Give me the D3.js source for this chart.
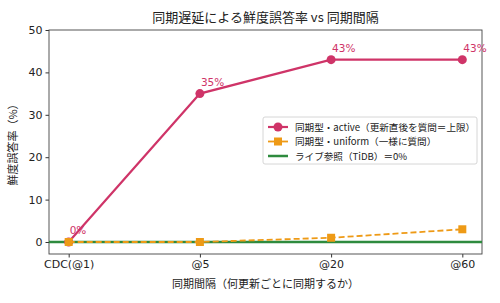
<!DOCTYPE html>
<html><head><meta charset="utf-8">
<script src="https://cdn.jsdelivr.net/npm/d3@7"></script>
<style>body{margin:0;background:#fff}svg{font-family:"Noto Sans CJK JP","DejaVu Sans",sans-serif}</style>
</head><body>
<svg id="c" width="500" height="303"></svg>
<script>
const categories = ["CDC(@1)", "@5", "@20", "@60"];
const activeValues = [0, 35, 43, 43];
const uniformValues = [0, 0, 1, 3];
const liveValue = 0;
const yTicks = [0, 10, 20, 30, 40, 50];
const title = "同期遅延による鮮度誤答率 vs 同期間隔";
const xLabel = "同期間隔（何更新ごとに同期するか）";
const yLabel = "鮮度誤答率（%）";
const legendLabels = ["同期型・active（更新直後を質問＝上限）", "同期型・uniform（一様に質問）", "ライブ参照（TiDB）＝0%"];

const colActive = "#cf3468", colUniform = "#ee9a16", colLive = "#2e8b3e";
const svg = d3.select("#c");
const L = 49, R = 482, T = 30, B = 254;
const x = d3.scaleLinear().domain([-0.15, 3.15]).range([L, R]);
const y = d3.scaleLinear().domain([-2.83, 50]).range([B, T]);

svg.append("text").attr("x", (L + R) / 2).attr("y", 22).attr("text-anchor", "middle")
  .attr("font-size", 13).attr("fill", "#222").text(title);

// axes
const xa = svg.append("g").attr("transform", `translate(0,${B})`)
  .call(d3.axisBottom(x).tickValues([0, 1, 2, 3]).tickFormat(i => categories[i]).tickSize(3.5).tickPadding(3));
const ya = svg.append("g").attr("transform", `translate(${L},0)`)
  .call(d3.axisLeft(y).tickValues(yTicks).tickSize(3.5).tickPadding(3));
[xa, ya].forEach(g => {
  g.select(".domain").remove();
  g.selectAll("text").attr("font-size", 11).attr("fill", "#222").attr("font-family", "'DejaVu Sans',sans-serif");
  g.selectAll("line").attr("stroke", "#333");
});
svg.append("rect").attr("x", L).attr("y", T).attr("width", R - L).attr("height", B - T)
  .attr("fill", "none").attr("stroke", "#444").attr("stroke-width", 0.9);

svg.append("text").attr("x", (L + R) / 2).attr("y", 288).attr("text-anchor", "middle")
  .attr("font-size", 11).attr("fill", "#222").text(xLabel);
svg.append("text").attr("transform", `translate(17,${(T + B) / 2}) rotate(-90)`).attr("text-anchor", "middle")
  .attr("font-size", 11).attr("fill", "#222").text(yLabel);

// live line
svg.append("line").attr("x1", L).attr("x2", R).attr("y1", y(liveValue)).attr("y2", y(liveValue))
  .attr("stroke", colLive).attr("stroke-width", 2.5);

const line = d3.line().x((d, i) => x(i)).y(d => y(d));
svg.append("path").datum(activeValues).attr("d", line).attr("fill", "none")
  .attr("stroke", colActive).attr("stroke-width", 2.2);
svg.selectAll(".pa").data(activeValues).join("circle").attr("cx", (d, i) => x(i)).attr("cy", d => y(d))
  .attr("r", 4.5).attr("fill", colActive);

svg.append("path").datum(uniformValues).attr("d", line).attr("fill", "none")
  .attr("stroke", colUniform).attr("stroke-width", 1.8).attr("stroke-dasharray", "6,3");
svg.selectAll(".pu").data(uniformValues).join("rect").attr("x", (d, i) => x(i) - 4).attr("y", d => y(d) - 4)
  .attr("width", 8).attr("height", 8).attr("fill", colUniform);

svg.selectAll(".lab").data(activeValues).join("text").attr("x", (d, i) => x(i) + 1).attr("y", d => y(d) - 8)
  .attr("font-size", 10.5).attr("fill", colActive).attr("font-family", "'DejaVu Sans',sans-serif")
  .text(d => d + "%");

// legend
const lg = svg.append("g").attr("transform", "translate(263,117)");
lg.append("rect").attr("width", 214).attr("height", 47).attr("rx", 2).attr("fill", "#fff")
  .attr("fill-opacity", 0.85).attr("stroke", "#ccc").attr("stroke-width", 0.8);
const items = [
  {c: colActive, m: "circle", w: 2.2},
  {c: colUniform, m: "square", w: 1.8},
  {c: colLive, m: null, w: 2.5}
];
items.forEach((it, i) => {
  const yy = 10 + i * 14.5;
  lg.append("line").attr("x1", 5).attr("x2", 25).attr("y1", yy).attr("y2", yy)
    .attr("stroke", it.c).attr("stroke-width", it.w);
  if (it.m === "circle") lg.append("circle").attr("cx", 15).attr("cy", yy).attr("r", 4.5).attr("fill", it.c);
  if (it.m === "square") lg.append("rect").attr("x", 11).attr("y", yy - 4).attr("width", 8).attr("height", 8).attr("fill", it.c);
  lg.append("text").attr("x", 32).attr("y", yy + 3.5).attr("font-size", 9.6).attr("fill", "#222").text(legendLabels[i]);
});
</script>
</body></html>
